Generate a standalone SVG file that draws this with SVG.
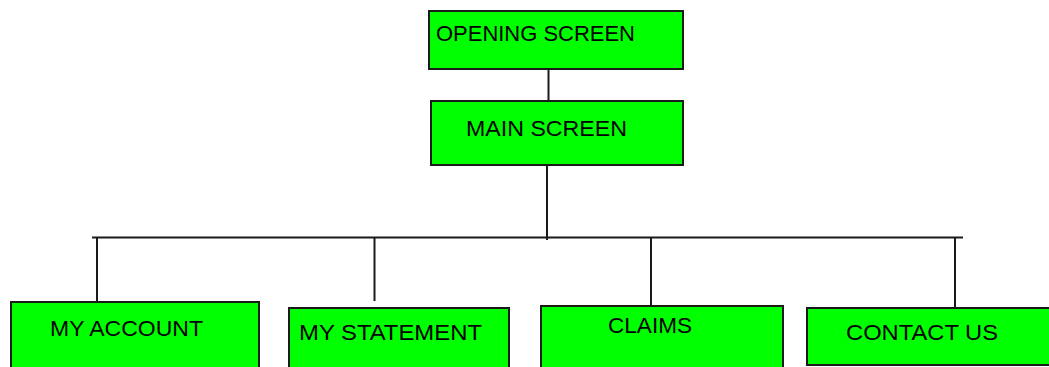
<svg xmlns="http://www.w3.org/2000/svg" width="1049" height="367" viewBox="0 0 1049 367">
<style>
.box{fill:#00ff00;stroke:#1a1a1a;stroke-width:2}
.lbl{font-family:"Liberation Sans",Arial,sans-serif;font-size:22px;fill:#000}
.conn line{stroke:#1a1a1a;stroke-width:2}
</style>
<rect width="1049" height="367" fill="#ffffff"/>
<g class="conn" id="connectors">
<line x1="548.5" y1="69" x2="548.5" y2="101"/>
<line x1="547" y1="165" x2="547" y2="240"/>
<line x1="92" y1="237.5" x2="963" y2="237.5"/>
<line x1="97" y1="237.5" x2="97" y2="302"/>
<line x1="374.5" y1="237.5" x2="374.5" y2="301"/>
<line x1="651" y1="237.5" x2="651" y2="306"/>
<line x1="955" y1="237.5" x2="955" y2="308"/>
</g>
<g id="opening-screen">
<rect class="box" x="429" y="11" width="254" height="58"/>
<text class="lbl" x="436" y="41" textLength="199" lengthAdjust="spacingAndGlyphs">OPENING SCREEN</text>
</g>
<g id="main-screen">
<rect class="box" x="431" y="101" width="252" height="64"/>
<text class="lbl" x="466" y="136" textLength="161" lengthAdjust="spacingAndGlyphs">MAIN SCREEN</text>
</g>
<g id="my-account">
<rect class="box" x="11" y="302" width="248" height="70"/>
<text class="lbl" x="50" y="336" textLength="153" lengthAdjust="spacingAndGlyphs">MY ACCOUNT</text>
</g>
<g id="my-statement">
<rect class="box" x="289" y="308" width="220" height="64"/>
<text class="lbl" x="299" y="340" textLength="183" lengthAdjust="spacingAndGlyphs">MY STATEMENT</text>
</g>
<g id="claims">
<rect class="box" x="541" y="306" width="242" height="66"/>
<text class="lbl" x="608" y="333" textLength="84" lengthAdjust="spacingAndGlyphs">CLAIMS</text>
</g>
<g id="contact-us">
<rect class="box" x="807" y="308" width="246" height="57"/>
<text class="lbl" x="846" y="340" textLength="152" lengthAdjust="spacingAndGlyphs">CONTACT US</text>
</g>
</svg>
